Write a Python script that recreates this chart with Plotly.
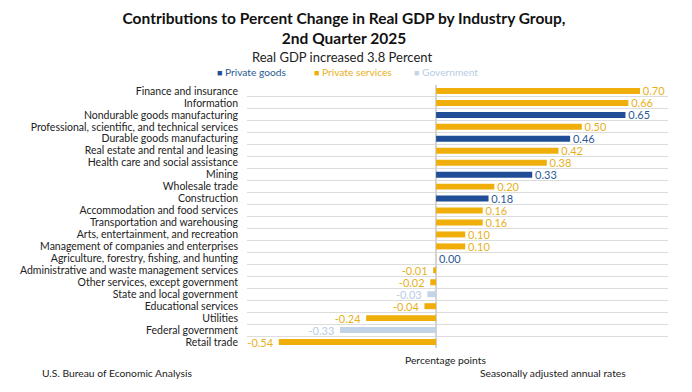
import plotly.graph_objects as go

categories = [
    "Finance and insurance",
    "Information",
    "Nondurable goods manufacturing",
    "Professional, scientific, and technical services",
    "Durable goods manufacturing",
    "Real estate and rental and leasing",
    "Health care and social assistance",
    "Mining",
    "Wholesale trade",
    "Construction",
    "Accommodation and food services",
    "Transportation and warehousing",
    "Arts, entertainment, and recreation",
    "Management of companies and enterprises",
    "Agriculture, forestry, fishing, and hunting",
    "Administrative and waste management services",
    "Other services, except government",
    "State and local government",
    "Educational services",
    "Utilities",
    "Federal government",
    "Retail trade",
]
values = [0.70, 0.66, 0.65, 0.50, 0.46, 0.42, 0.38, 0.33, 0.20, 0.18, 0.16, 0.16,
          0.10, 0.10, 0.00, -0.01, -0.02, -0.03, -0.04, -0.24, -0.33, -0.54]
groups = ["S", "S", "G", "S", "G", "S", "S", "G", "S", "G", "S", "S",
          "S", "S", "G", "S", "S", "V", "S", "S", "V", "S"]

group_order = ["G", "S", "V"]
group_names = {"G": "Private goods", "S": "Private services", "V": "Government"}
group_colors = {"G": "#1F4E96", "S": "#F0AE0A", "V": "#C3D3E8"}
text_colors = {"G": "#2A5A96", "S": "#E8B020", "V": "#B8CCE4"}

FONT = "Lato"
# page body has an 8px margin, so the figure is sized to fit the window
W, H = 684, 384
L, R, T, B = 239, 24, 77, 44
PW, PH = W - L - R, H - T - B


def px_x(x):
    return (x - L) / PW


def px_y(y):
    return 1 - (y - T) / PH


def label(v):
    # value label with a little breathing room from the bar end
    return f"  {v:.2f}  " if v < 0 else f" {v:.2f}"


fig = go.Figure()
for g in group_order:
    ys = [c for c, gg in zip(categories, groups) if gg == g]
    xs = [v for v, gg in zip(values, groups) if gg == g]
    fig.add_trace(go.Bar(
        x=xs, y=ys, orientation="h",
        name=group_names[g],
        marker=dict(color=group_colors[g], line=dict(width=0)),
        width=0.5,
        text=[label(v) for v in xs], texttemplate="%{text}",
        textposition="outside", constraintext="none",
        textfont=dict(color=text_colors[g], size=11, family=FONT),
        cliponaxis=False,
        showlegend=False,
    ))

fig.update_layout(
    width=W, height=H,
    margin=dict(l=L, r=R, t=T, b=B, autoexpand=False),
    paper_bgcolor="white", plot_bgcolor="white",
    font=dict(family=FONT, size=10, color="#222222"),
    barmode="overlay",
    title=dict(
        text="<b>Contributions to Percent Change in Real GDP by Industry Group,<br>2nd Quarter 2025</b>",
        x=336 / W, xanchor="center", xref="container",
        y=1 - 16 / H, yanchor="top", yref="container",
        font=dict(family=FONT, size=15.5, color="#111111"),
    ),
    showlegend=False,
)
fig.update_xaxes(
    range=[-0.649, 0.796], showticklabels=False, showgrid=False, automargin=False,
    zeroline=True, zerolinecolor="#D4D4D4", zerolinewidth=1.5, fixedrange=True,
)
fig.update_yaxes(
    categoryorder="array", categoryarray=categories, autorange="reversed",
    tickmode="linear", tick0=0, dtick=1, automargin=False,
    tickson="boundaries", showgrid=True, gridcolor="#DCDCDC", gridwidth=1.2,
    ticks="", ticklabelstandoff=8, tickfont=dict(size=10.5, color="#222222"),
    showline=False,
)

# legend row (drawn as coloured text items)
legend_left = {"G": 207, "S": 304, "V": 404}
for g in group_order:
    fig.add_annotation(
        text=f"<span style='color:{group_colors[g]};font-size:9px'>■</span> "
             f"<span style='color:{text_colors[g]}'>{group_names[g]}</span>",
        xref="paper", yref="paper", x=px_x(legend_left[g]), y=px_y(64),
        showarrow=False, xanchor="left", yanchor="middle",
        font=dict(size=10.2, family=FONT),
    )

fig.add_annotation(text="Real GDP increased 3.8 Percent", xref="paper", yref="paper",
                   x=px_x(334), y=px_y(49), showarrow=False,
                   font=dict(size=13, color="#222222"), xanchor="center", yanchor="middle")
fig.add_annotation(text="Percentage points", xref="paper", yref="paper",
                   x=px_x(437), y=px_y(352), showarrow=False,
                   font=dict(size=10.3, color="#222222"), xanchor="center", yanchor="middle")
fig.add_annotation(text="Seasonally adjusted annual rates", xref="paper", yref="paper",
                   x=px_x(620), y=px_y(365), showarrow=False,
                   font=dict(size=10.3, color="#222222"), xanchor="right", yanchor="middle")
fig.add_annotation(text="U.S. Bureau of Economic Analysis", xref="paper", yref="paper",
                   x=px_x(32), y=px_y(365), showarrow=False,
                   font=dict(size=10.3, color="#222222"), xanchor="left", yanchor="middle")

fig.write_html("out.html")
